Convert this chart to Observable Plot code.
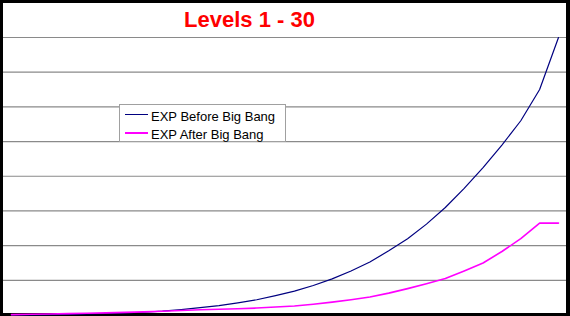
<!DOCTYPE html>
<html>
<head>
<meta charset="utf-8">
<script src="https://cdn.jsdelivr.net/npm/d3@7"></script>
<script src="https://cdn.jsdelivr.net/npm/@observablehq/plot@0.6"></script>
<style>
  html, body { margin: 0; padding: 0; background: #fff; }
  #wrap { position: relative; width: 570px; height: 316px; background: #000; overflow: hidden; font-family: "Liberation Sans", Arial, sans-serif; }
  #panel { position: absolute; left: 3px; top: 3px; width: 563px; height: 310px; background: #fff; }
  #title { position: absolute; left: 0; top: 7px; width: 499px; text-align: center; color: #ff0000; font-weight: bold; font-size: 22px; line-height: 26px; white-space: nowrap; }
  #chart { position: absolute; left: 0; top: 0; }
  #chart svg { overflow: visible; background: transparent; }
  #legend { position: absolute; left: 119px; top: 104px; width: 167px; height: 38px; box-sizing: border-box; border: 1px solid #a0a0a0; background: #fff; }
  .row { position: absolute; left: 0; width: 100%; height: 18px; }
  .swatch { position: absolute; left: 5px; width: 23px; }
  .label { position: absolute; left: 31px; top: 0; font-size: 13px; line-height: 18px; color: #000; white-space: nowrap; }
</style>
</head>
<body>
<div id="wrap">
  <div id="panel"></div>
  <div id="chart"></div>
  <div id="title"></div>
  <div id="legend"></div>
</div>
<script>
// Chart text
const titleText = "Levels 1 - 30";

// Character level on the x axis
const levels = [1, 2, 3, 4, 5, 6, 7, 8, 9, 10, 11, 12, 13, 14, 15,
                16, 17, 18, 19, 20, 21, 22, 23, 24, 25, 26, 27, 28, 29, 30];

// Experience needed per level, in millions
const expBefore = [0.003, 0.006, 0.012, 0.02, 0.03, 0.043, 0.058, 0.08, 0.11, 0.155,
                   0.21, 0.27, 0.35, 0.44, 0.56, 0.69, 0.85, 1.04, 1.27, 1.53,
                   1.85, 2.2, 2.62, 3.1, 3.65, 4.25, 4.9, 5.6, 6.5, 8.0];
const expAfter = [0.01, 0.02, 0.03, 0.04, 0.05, 0.06, 0.075, 0.09, 0.11, 0.13,
                  0.15, 0.165, 0.18, 0.2, 0.23, 0.26, 0.31, 0.37, 0.44, 0.52,
                  0.63, 0.76, 0.9, 1.05, 1.27, 1.5, 1.83, 2.2, 2.65, 2.65];

// Series names and colours
const seriesNames = ["EXP Before Big Bang", "EXP After Big Bang"];
const seriesColors = ["#000080", "#ff00ff"];
const seriesWidths = [1.2, 1.6];

// Horizontal gridline values
const gridValues = [1, 2, 3, 4, 5, 6, 7, 8];

const seriesValues = [expBefore, expAfter];
const rows = seriesNames.flatMap((name, s) =>
  levels.map((level, i) => ({series: name, level, exp: seriesValues[s][i]})));

document.getElementById("title").textContent = titleText;

const chart = Plot.plot({
  width: 570,
  height: 316,
  marginLeft: 3,
  marginRight: 4,
  marginTop: 37,
  marginBottom: 1.5,
  style: {background: "transparent", overflow: "visible"},
  x: {domain: [1, 30], insetLeft: 8, insetRight: 8, axis: null},
  y: {domain: [0, 8], axis: null},
  marks: [
    Plot.ruleY(gridValues, {stroke: "#8a8a8a", strokeWidth: 1.2}),
    ...seriesNames.map((name, s) =>
      Plot.line(rows.filter(d => d.series === name), {
        x: "level",
        y: "exp",
        stroke: seriesColors[s],
        strokeWidth: seriesWidths[s],
        curve: "linear"
      }))
  ]
});
document.getElementById("chart").appendChild(chart);

// Legend box
const legend = document.getElementById("legend");
const swatchTops = [9, 27];
const rowTops = [3, 21];
seriesNames.forEach((name, s) => {
  const row = document.createElement("div");
  row.className = "row";
  row.style.top = "0px";
  const sw = document.createElement("div");
  sw.className = "swatch";
  sw.style.top = swatchTops[s] + "px";
  sw.style.height = seriesWidths[s] + "px";
  sw.style.background = seriesColors[s];
  const lab = document.createElement("div");
  lab.className = "label";
  lab.style.top = rowTops[s] + "px";
  lab.textContent = name;
  row.appendChild(sw);
  row.appendChild(lab);
  legend.appendChild(row);
});
</script>
</body>
</html>
